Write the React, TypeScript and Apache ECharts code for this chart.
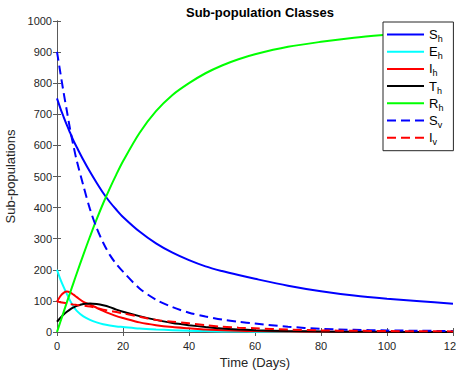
import React, { useEffect, useRef } from "react";
import * as echarts from "echarts";

const timeDays = [0, 1, 2, 3, 4, 5, 6, 8, 10, 12, 14, 16, 18, 20, 25, 30, 35, 40, 45, 50, 55, 60, 70, 80, 90, 100, 110, 120];
const Sh = [751, 720, 692, 665, 640, 615, 594, 553, 515, 480, 447, 418, 393, 370, 323, 285, 255, 231, 211, 196, 183, 171, 149, 131, 117, 107, 99, 91];
const Eh = [200, 170, 145, 122, 100, 82, 68, 50, 39, 31, 25, 21, 18, 16, 11, 8, 6, 4, 3, 2, 1.5, 1, 0.5, 0.3, 0.2, 0.1, 0.1, 0.1];
const Ih = [97, 115, 126, 130, 127, 120, 112, 97, 88, 78, 68, 59, 51, 45, 31, 22, 16, 12, 8, 6, 4, 3, 1.5, 1, 0.5, 0.4, 0.3, 0.2];
const Th = [33, 45, 56, 65, 73, 79, 84, 90, 92, 90, 86, 80, 72, 65, 51, 39, 29, 22, 16, 11, 8, 6, 3, 1.5, 1, 0.5, 0.3, 0.2];
const Rh = [0, 32, 64, 96, 127, 158, 189, 249, 307, 362, 414, 462, 507, 549, 640, 710, 762, 800, 832, 857, 877, 893, 917, 933, 946, 956, 965, 973];
const Sv = [901, 835, 770, 710, 650, 598, 550, 470, 395, 335, 287, 248, 218, 194, 140, 104, 80, 62, 50, 40, 33, 27, 17, 10, 7, 5, 4, 3];
const Iv = [98, 96, 94, 92, 90, 88, 87, 85, 82, 77, 72, 68, 64, 60, 49, 39, 33, 28, 22, 17, 14, 12, 8, 5, 4, 3, 2.5, 2];

const seriesNames = ["S_h", "E_h", "I_h", "T_h", "R_h", "S_v", "I_v"];
const seriesValues = [Sh, Eh, Ih, Th, Rh, Sv, Iv];
const seriesColors = ["#0000ff", "#00ffff", "#ff0000", "#000000", "#00ff00", "#0000ff", "#ff0000"];
const seriesDashed = [false, false, false, false, false, true, true];

const xTickLabels = [0, 20, 40, 60, 80, 100, 120];
const yTickLabels = [0, 100, 200, 300, 400, 500, 600, 700, 800, 900, 1000];

const FONT = "'Liberation Sans', Arial, Helvetica, sans-serif";
const AXIS_COLOR = "#5a5a5a";

export default function App() {
  const ref = useRef<HTMLDivElement>(null);
  useEffect(() => {
    if (!ref.current) return;
    const chart = echarts.init(ref.current, null, { renderer: "svg" });
    const xMin = xTickLabels[0];
    const xMax = xTickLabels[xTickLabels.length - 1];
    const xInt = xTickLabels[1] - xTickLabels[0];
    const yMin = yTickLabels[0];
    const yMax = yTickLabels[yTickLabels.length - 1];
    const yInt = yTickLabels[1] - yTickLabels[0];
    const baseAxis = {
      type: "value" as const,
      axisLine: { show: true, lineStyle: { color: AXIS_COLOR, width: 1 } },
      axisTick: { show: true, inside: true, length: 4, lineStyle: { color: AXIS_COLOR } },
      splitLine: { show: false },
    };
    chart.setOption({
      animation: false,
      backgroundColor: "#ffffff",
      title: {
        text: "Sub-population Classes",
        left: 255,
        textAlign: "center",
        top: 1,
        textStyle: { fontFamily: FONT, fontSize: 13, fontWeight: "bold", color: "#000" },
      },
      grid: { left: 57, right: 3, top: 21, bottom: 43, containLabel: false, outerBoundsMode: "none" },
      legend: {
        orient: "vertical",
        left: 383,
        top: 22,
        itemWidth: 37,
        itemHeight: 10,
        itemGap: 1.7,
        padding: [6, 10, 4, 3],
        borderColor: "#262626",
        borderWidth: 1,
        borderRadius: 0,
        backgroundColor: "#ffffff",
        itemStyle: { opacity: 0 },
        data: seriesNames,
        formatter: (name: string) => {
          const [m, s] = name.split("_");
          return `{m|${m}}{s|${s}}`;
        },
        textStyle: {
          rich: {
            m: { fontFamily: FONT, fontSize: 13, color: "#000", lineHeight: 18 },
            s: { fontFamily: FONT, fontSize: 9, color: "#000", lineHeight: 18, verticalAlign: "bottom" },
          },
        },
      },
      xAxis: [
        {
          ...baseAxis,
          min: xMin,
          max: xMax,
          interval: xInt,
          position: "bottom",
          name: "Time (Days)",
          nameLocation: "middle",
          nameGap: 24,
          nameTextStyle: { fontFamily: FONT, fontSize: 13, color: "#262626" },
          axisLabel: { fontFamily: FONT, fontSize: 11, color: "#262626", margin: 8, formatter: (v: number) => String(v) },
        },
        {
          ...baseAxis,
          min: xMin,
          max: xMax,
          interval: xInt,
          position: "top",
          axisLabel: { show: false },
        },
      ],
      yAxis: [
        {
          ...baseAxis,
          min: yMin,
          max: yMax,
          interval: yInt,
          position: "left",
          name: "Sub-populations",
          nameLocation: "middle",
          nameGap: 36,
          nameTextStyle: { fontFamily: FONT, fontSize: 13, color: "#262626" },
          axisLabel: { fontFamily: FONT, fontSize: 11, color: "#262626", margin: 5, formatter: (v: number) => String(v) },
        },
        {
          ...baseAxis,
          min: yMin,
          max: yMax,
          interval: yInt,
          position: "right",
          axisLabel: { show: false },
        },
      ],
      series: seriesNames.map((name, i) => ({
        name,
        type: "line",
        xAxisIndex: 0,
        yAxisIndex: 0,
        data: timeDays.map((t, j) => [t, seriesValues[i][j]]),
        symbol: "none",
        smooth: 0.3,
        color: seriesColors[i],
        lineStyle: {
          color: seriesColors[i],
          width: 2,
          type: seriesDashed[i] ? [9, 5] : "solid",
        },
      })),
    });
    return () => chart.dispose();
  }, []);
  return <div ref={ref} style={{ width: 456, height: 375, position: "absolute", left: 0, top: 0 }} />;
}
